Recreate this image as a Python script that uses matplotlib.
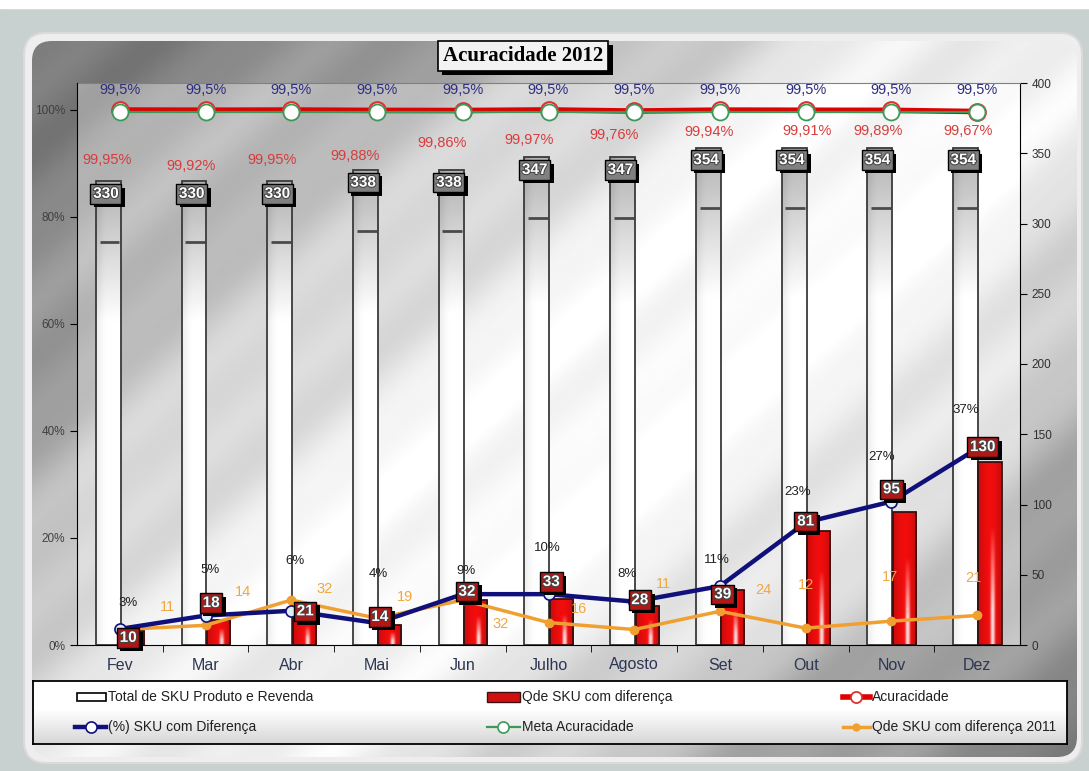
import numpy as np
import matplotlib
matplotlib.use("Agg")
import matplotlib.pyplot as plt
import matplotlib.patheffects as pe
from matplotlib.patches import Rectangle, FancyBboxPatch
from matplotlib.ticker import FuncFormatter

# data
months = ["Fev", "Mar", "Abr", "Mai", "Jun", "Julho", "Agosto", "Set", "Out", "Nov", "Dez"]
total_sku = [330, 330, 330, 338, 338, 347, 347, 354, 354, 354, 354]
sku_diff = [10, 18, 21, 14, 32, 33, 28, 39, 81, 95, 130]
sku_diff_2011 = [11, 14, 32, 19, 32, 16, 11, 24, 12, 17, 21]
pct_diff = [3.0, 5.5, 6.4, 4.1, 9.5, 9.5, 8.1, 11.0, 22.9, 26.8, 36.7]
pct_diff_labels = ["3%", "5%", "6%", "4%", "9%", "10%", "8%", "11%", "23%", "27%", "37%"]
acuracidade = [99.95, 99.92, 99.95, 99.88, 99.86, 99.97, 99.76, 99.94, 99.91, 99.89, 99.67]
acuracidade_labels = ["99,95%", "99,92%", "99,95%", "99,88%", "99,86%", "99,97%",
                      "99,76%", "99,94%", "99,91%", "99,89%", "99,67%"]
meta = [99.5] * 11
meta_labels = ["99,5%"] * 11

# hand-placed data label positions (as in the original sheet)
acc_label_y = [90.6, 89.5, 90.6, 91.4, 93.8, 94.4, 95.3, 95.9, 96.1, 96.1, 96.1]
acc_label_dx = [-0.15, -0.17, -0.23, -0.26, -0.24, -0.23, -0.23, -0.13, 0.02, -0.16, -0.11]
orange_off = [(34, 16), (27, 24), (24, 8), (20, 15), (27, -17), (22, 10),
              (21, 33), (31, 15), (0, 31), (-1, 32), (-3, 27)]
pct_off = [(6, 19), (3, 33), (3, 36), (1, 35), (2, 17), (-1, 33),
           (-5, 20), (-2, 19), (-6, 22), (-7, 32), (-8, 28)]
red_off = [(6, -5), (4, 12), (10, 3), (2, 6), (3, 6), (2, 12),
           (4, 4), (2, -3), (0, 7), (0, 16), (4, 11)]

W, H = 1089, 771
plt.rcParams["font.family"] = ["Liberation Sans", "DejaVu Sans"]

fig = plt.figure(figsize=(W / 100, H / 100), dpi=100)

# ---- background (pixel coordinates) ----
bg = fig.add_axes([0, 0, 1, 1], zorder=-5)
bg.set_xlim(0, W)
bg.set_ylim(H, 0)
bg.axis("off")
bg.add_patch(Rectangle((0, 0), W, H, color="#c9d1d0", zorder=0))
bg.add_patch(Rectangle((0, 0), W, 8, color="white", zorder=0))
bg.add_patch(FancyBboxPatch((24, 33), 1058, 730, boxstyle="round,pad=0,rounding_size=22",
                            fc="#eeeeee", ec="#dadada", lw=1.5, zorder=0.5))

X, Y = np.meshgrid(np.linspace(0, 1, 545), np.linspace(0, 1, 386))
u = (X + 0.8 * Y) / 1.8
stripes = 0.035 * np.sin(2 * np.pi * u * 7) + 0.02 * np.sin(2 * np.pi * u * 17)
outer = np.clip(0.45 + 0.5 * np.exp(-((u - 0.55) / 0.3) ** 2) + stripes, 0, 1)
inner = np.clip(0.66 + 0.34 * np.exp(-((u - 0.56) / 0.27) ** 2) + stripes, 0, 1)

frame = FancyBboxPatch((32, 41), 1045, 716, boxstyle="round,pad=0,rounding_size=20",
                       fc="none", ec="none")
bg.add_patch(frame)
im = bg.imshow(outer, cmap="gray", vmin=0, vmax=1, extent=(0, W, H, 0), aspect="auto", zorder=2)
im.set_clip_path(frame)

plot_rect = Rectangle((77, 83), 943, 562, fc="none", ec="none")
bg.add_patch(plot_rect)
im2 = bg.imshow(inner, cmap="gray", vmin=0, vmax=1, extent=(0, W, H, 0), aspect="auto", zorder=3)
im2.set_clip_path(plot_rect)
bg.set_xlim(0, W)
bg.set_ylim(H, 0)

# ---- main axes: counts (right) and percent (left) ----
ax = fig.add_axes([77 / W, (H - 645) / H, 943 / W, 562 / H], zorder=1)
ax.patch.set_visible(False)
x = np.arange(len(months))

axp = ax.twinx()
axp.set_ylim(0, 105)
ax.yaxis.set_ticks_position("right")
axp.yaxis.set_ticks_position("left")

bw = 0.29
wbars = ax.bar(x - 0.135, total_sku, bw, color="white", edgecolor="none", zorder=2)
rbars = ax.bar(x + 0.15, sku_diff, 0.27, color="#e01010", edgecolor="none", zorder=2)

# white bar texture
tt = np.linspace(0, 1, 120)[:, None]
cc = np.linspace(0, 1, 20)[None, :]
wtex = np.clip(1 - 0.3 * np.clip(1 - tt / 0.3, 0, 1) - 0.06 * np.exp(-(cc / 0.25) ** 2), 0, 1)
# red bar texture
rr = 0.78 + 0.17 * np.sin(np.pi * cc) + 0 * tt
streak = np.exp(-((cc - 0.62) / 0.09) ** 2) * np.clip((tt - 0.35) / 0.45, 0, 1)
rtex = np.dstack([np.clip(rr + streak * 0.2, 0, 1), 0.05 + 0.85 * streak, 0.05 + 0.85 * streak])

for b in wbars:
    bx, by, bwid, bh = b.get_x(), b.get_y(), b.get_width(), b.get_height()
    t = ax.imshow(wtex, cmap="gray", vmin=0, vmax=1, extent=(bx, bx + bwid, by, by + bh),
                  aspect="auto", zorder=2.1)
    t.set_clip_path(b)
    ax.plot([bx + 0.15 * bwid, bx + 0.95 * bwid], [bh - 43, bh - 43], color="#4a4a4a",
            lw=2, zorder=2.2, solid_capstyle="butt")
for b in rbars:
    bx, by, bwid, bh = b.get_x(), b.get_y(), b.get_width(), b.get_height()
    t = ax.imshow(rtex, extent=(bx, bx + bwid, by, by + bh), aspect="auto", zorder=2.1)
    t.set_clip_path(b)
ax.bar(x - 0.135, total_sku, bw, fill=False, edgecolor="#3a3a3a", lw=1.3, zorder=2.3)
ax.bar(x + 0.15, sku_diff, 0.27, fill=False, edgecolor="#3a1010", lw=1.3, zorder=2.3)
ax.set_xlim(-0.5, len(months) - 0.5)
ax.set_ylim(0, 400)

# 2011 line
ax.plot(x, sku_diff_2011, "-o", color="#f0a030", lw=2.5, ms=6, zorder=5)
for i, v in enumerate(sku_diff_2011):
    ax.annotate(str(v), (x[i], v), xytext=orange_off[i], textcoords="offset points",
                ha="center", va="center", fontsize=10.5, color="#f0a840", zorder=6)

# percent axis lines
axp.plot(x, acuracidade, "-o", color="#e00000", lw=4, ms=12, mfc="white", mec="#e03030",
         mew=1.5, zorder=3)
axp.plot(x, meta, "-o", color="#3c9a58", lw=1.6, ms=11.5, mfc="white", mec="#3c9a58",
         mew=1.3, zorder=4)
axp.plot(x, pct_diff, "-o", color="#10107a", lw=3.2, ms=8, mfc="#e0eef8", mec="#10107a",
         mew=1.2, zorder=5)

for i in range(len(months)):
    axp.annotate(meta_labels[i], (x[i], meta[i]), xytext=(0, 16), textcoords="offset points",
                 ha="center", va="center", fontsize=10.5, color="#2e2e80", zorder=8)
    axp.text(x[i] + acc_label_dx[i], acc_label_y[i], acuracidade_labels[i], ha="center",
             va="center", fontsize=10.5, color="#d83c3c", zorder=8)
    axp.annotate(pct_diff_labels[i], (x[i], pct_diff[i]), xytext=pct_off[i],
                 textcoords="offset points", ha="center", va="center", fontsize=9.5,
                 color="#202020", zorder=8)

shadow = [pe.SimplePatchShadow(offset=(2.5, -2.5), shadow_rgbFace="black", alpha=1.0), pe.Normal()]


def label_box(axis, xy, text, face, off, coords):
    a = axis.annotate(text, xy, xycoords=coords, xytext=off, textcoords="offset points",
                      ha="center", va="center", fontsize=11, fontweight="bold", color="white",
                      bbox=dict(boxstyle="square,pad=0.18", fc=face, ec="black", lw=1.0),
                      zorder=12, annotation_clip=False)
    a.set_path_effects([pe.withStroke(linewidth=1.5, foreground="#444444")])
    a.get_bbox_patch().set_path_effects(shadow)


for i in range(len(months)):
    label_box(ax, (x[i], total_sku[i]), str(total_sku[i]), "#808080", (-10, -9), "data")
    label_box(axp, (x[i], sku_diff[i]), str(sku_diff[i]), "#b01818", red_off[i], ax.transData)

# axes styling
for s in ["top", "bottom", "right"]:
    axp.spines[s].set_visible(False)
axp.spines["left"].set_color("black")
ax.spines["left"].set_visible(False)
ax.spines["right"].set_color("black")
ax.spines["bottom"].set_color("black")
ax.spines["top"].set_color("#808080")
ax.spines["top"].set_linewidth(0.8)

axp.set_yticks([0, 20, 40, 60, 80, 100])
axp.yaxis.set_major_formatter(FuncFormatter(lambda v, p: f"{v:.0f}%"))
axp.tick_params(axis="y", direction="out", length=5, labelsize=8.5, labelcolor="#404040")
ax.set_yticks(range(0, 401, 50))
ax.tick_params(axis="y", direction="out", length=5, labelsize=8.5, labelcolor="#303030")

ax.set_xticks(x)
ax.set_xticklabels(months)
ax.tick_params(axis="x", which="major", length=0, pad=9, labelsize=11.5, labelcolor="#2d3652")
ax.set_xticks(np.arange(0.5, len(months) - 1, 1), minor=True)
ax.tick_params(axis="x", which="minor", length=5, direction="out", color="black")

# title box
title = fig.text(523 / W, 1 - 56 / H, "Acuracidade 2012", family="Liberation Serif",
                 fontweight="bold", fontsize=15, color="black", ha="center", va="center",
                 bbox=dict(boxstyle="square,pad=0.25", fc="#f2f2f2", ec="black", lw=1.2))
title.get_bbox_patch().set_path_effects(
    [pe.SimplePatchShadow(offset=(3, -3), shadow_rgbFace="black", alpha=1.0), pe.Normal()])

# legend box (pixel coordinates)
lg = fig.add_axes([33 / W, (H - 744) / H, 1034 / W, 63 / H], zorder=2)
lg.set_xticks([])
lg.set_yticks([])
for s in lg.spines.values():
    s.set_color("black")
    s.set_linewidth(1.3)
lgrad = np.clip(1 - 0.16 * np.clip((np.linspace(0, 1, 60)[:, None] - 0.45) / 0.55, 0, 1), 0, 1)
lgrad = np.repeat(lgrad, 4, axis=1)
lg.imshow(lgrad, cmap="gray", vmin=0, vmax=1, extent=(33, 1067, 744, 681), aspect="auto")
lg.set_xlim(33, 1067)
lg.set_ylim(744, 681)

lg.add_patch(Rectangle((77, 693), 29, 8, fc="white", ec="black", lw=1.2))
lg.add_patch(Rectangle((487, 692), 33, 10, fc="#d01010", ec="#401010", lw=1.0))
lg.plot([843, 870], [697, 697], color="#e00000", lw=4)
lg.plot([856], [697], "o", ms=8, mfc="white", mec="#e03030", mew=1.3)
lg.plot([75, 106], [727, 727], color="#10107a", lw=3.2)
lg.plot([91], [727], "o", ms=8, mfc="white", mec="#10107a", mew=1.2)
lg.plot([487, 520], [727, 727], color="#3c9a58", lw=1.6)
lg.plot([503], [727], "o", ms=8, mfc="white", mec="#3c9a58", mew=1.2)
lg.plot([843, 870], [727, 727], color="#f0a030", lw=2.5)
lg.plot([856], [727], "o", ms=5, color="#f0a030")
for tx, ty, s in [(108, 697, "Total de SKU Produto e Revenda"), (522, 697, "Qde SKU com diferença"),
                  (872, 697, "Acuracidade"), (108, 727, "(%) SKU com Diferença"),
                  (522, 727, "Meta Acuracidade"), (872, 727, "Qde SKU com diferença 2011")]:
    lg.text(tx, ty, s, ha="left", va="center", fontsize=10, color="#202020")

fig.savefig("out.png", dpi=100, facecolor="white")
